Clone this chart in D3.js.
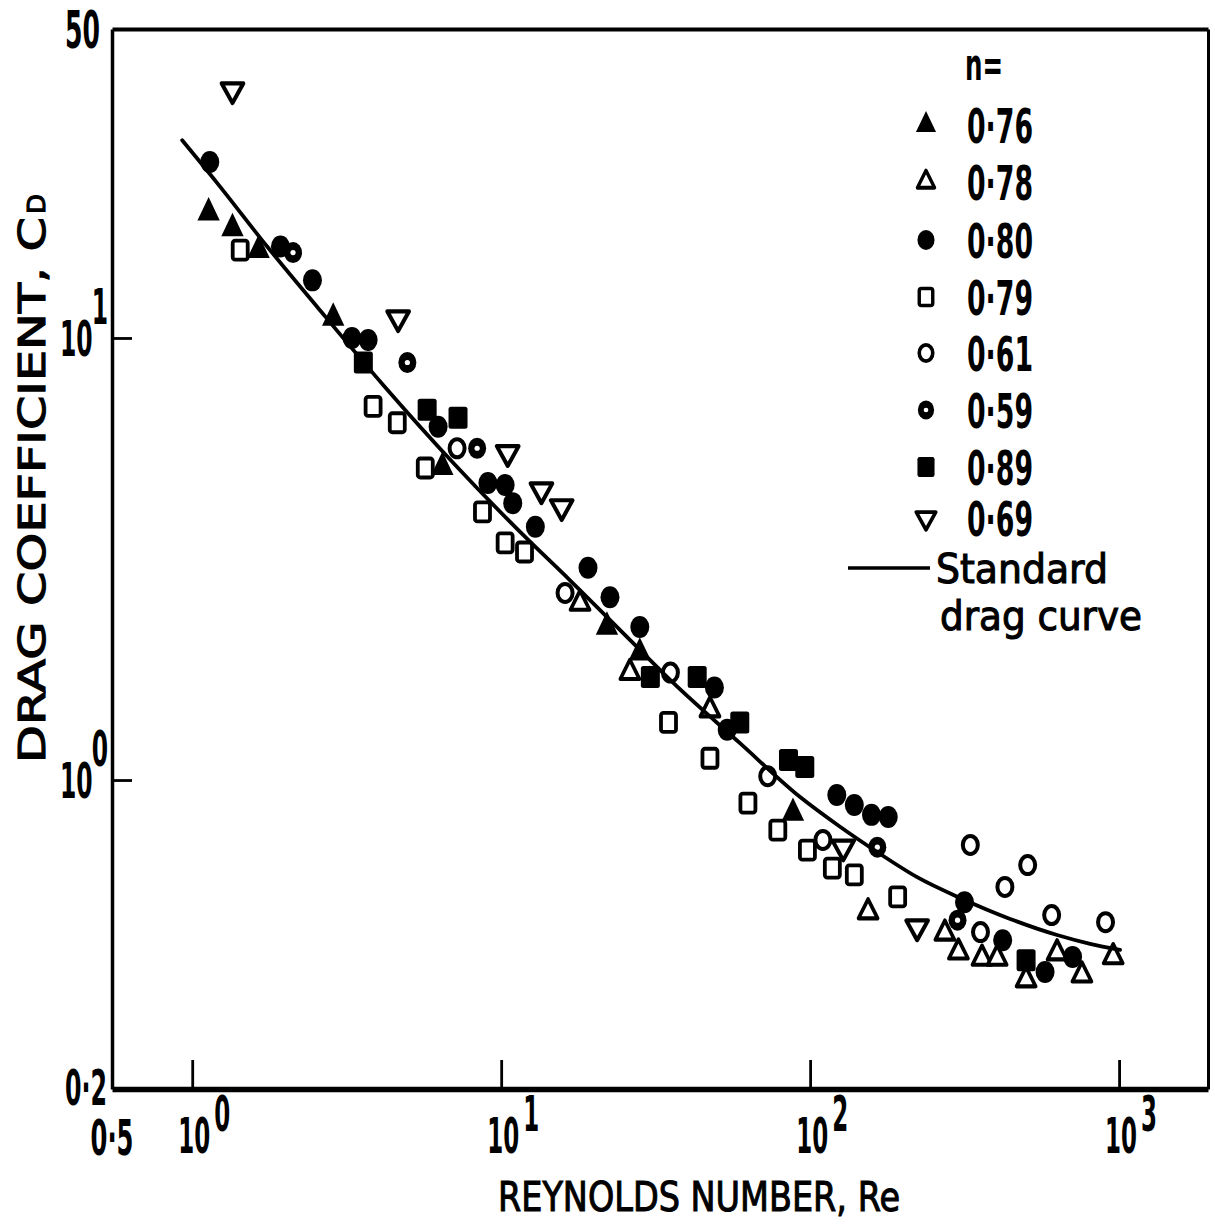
<!DOCTYPE html>
<html>
<head>
<meta charset="utf-8">
<script src="https://cdn.jsdelivr.net/npm/d3@7"></script>
<style>
  body { margin: 0; background: #fff; }
  svg { display: block; }
  text { font-family: "DejaVu Sans", "Noto Sans", sans-serif; font-weight: bold; fill: #000; }
  text.title { font-weight: normal; stroke: #000; stroke-width: 1.1px; }
</style>
</head>
<body>
<svg id="chart" width="1215" height="1227"></svg>
<script>
// ---- axis ranges and tick labels ----
const xDomain = [0.55, 1940];          // Reynolds number
const yDomain = [0.2, 50];             // drag coefficient
const xDecades = [1, 10, 100, 1000];
const xExponents = ["0", "1", "2", "3"];
const yDecades = [1, 10];
const yExponents = ["0", "1"];
const xCornerLabel = "0·5";
const yBottomLabel = "0·2";
const yTopLabel = "50";
const xTitle = "REYNOLDS NUMBER, Re";
const yTitle = "DRAG COEFFICIENT, C";
const yTitleSub = "D";

// ---- measured drag coefficients [Re, CD], one list per flow index n ----
const n076 = [[1.13, 19.2], [1.35, 17.7], [1.64, 15.8], [2.86, 11.1], [6.45, 5.1],
              [22.0, 2.22], [28.1, 1.94], [88, 0.842]];
const n078 = [[18.0, 2.51], [26.1, 1.75], [47.4, 1.44], [154, 0.503], [273, 0.45],
              [302, 0.408], [360, 0.395], [403, 0.395], [500, 0.353], [630, 0.406],
              [758, 0.362], [957, 0.398]];
const n080 = [[1.14, 25.0], [1.93, 16.1], [2.45, 13.5], [3.29, 10.0], [3.71, 9.9],
              [6.25, 6.3], [9.06, 4.7], [10.3, 4.65], [10.9, 4.23], [12.9, 3.74],
              [19.1, 3.02], [22.5, 2.59], [28.1, 2.22], [49.0, 1.62], [53.9, 1.30],
              [122, 0.925], [139, 0.878], [158, 0.834], [179, 0.825], [316, 0.529],
              [420, 0.434], [576, 0.368], [707, 0.398]];
const n079 = [[1.43, 15.8], [3.85, 7.0], [4.61, 6.43], [5.68, 5.08], [8.7, 4.04],
              [10.3, 3.44], [11.9, 3.28], [34.8, 1.35], [47.4, 1.12], [62.9, 0.887],
              [78.6, 0.77], [98, 0.694], [118, 0.632], [139, 0.61], [192, 0.544]];
const n061 = [[7.2, 5.63], [16.1, 2.65], [35.3, 1.75], [72.9, 1.02], [110, 0.732],
              [330, 0.713], [356, 0.453], [427, 0.573], [506, 0.642], [605, 0.495],
              [904, 0.477]];
const n059 = [[2.12, 15.6], [4.97, 8.8], [8.36, 5.63], [165, 0.705], [300, 0.482]];
const n089 = [[3.58, 8.8], [5.76, 6.88], [7.25, 6.6], [30.4, 1.71], [43.1, 1.71],
              [59.2, 1.35], [85.1, 1.11], [96.1, 1.07], [500, 0.391]];
const n069 = [[1.35, 36.4], [4.64, 11.1], [10.5, 5.5], [13.5, 4.53], [15.7, 4.15],
              [128, 0.705], [222, 0.465]];

// ---- standard drag curve [Re, CD] ----
const standardCurve = [[0.928, 28.0], [1.205, 22.4], [1.748, 16.1], [2.54, 11.75],
  [4.15, 7.83], [7.10, 5.16], [11.8, 3.58], [16.7, 2.83], [26.2, 2.07], [36.0, 1.66],
  [59.4, 1.21], [92.8, 0.915], [124, 0.787], [165, 0.687], [222, 0.603], [306, 0.541],
  [444, 0.485], [630, 0.446], [806, 0.426], [1007, 0.413]];

const legendTitle = "n=";
const legendLabels = ["0·76", "0·78", "0·80", "0·79", "0·61", "0·59", "0·89", "0·69"];
const curveLabel = ["Standard", "drag curve"];

// series table: data + marker kind, in legend order
const series = [
  { label: legendLabels[0], data: n076, kind: "triFilled" },
  { label: legendLabels[1], data: n078, kind: "triOpen" },
  { label: legendLabels[2], data: n080, kind: "circFilled" },
  { label: legendLabels[3], data: n079, kind: "sqOpen" },
  { label: legendLabels[4], data: n061, kind: "circOpen" },
  { label: legendLabels[5], data: n059, kind: "circDot" },
  { label: legendLabels[6], data: n089, kind: "sqFilled" },
  { label: legendLabels[7], data: n069, kind: "triDown" }
];

const svg = d3.select("#chart");
const L = 112, R = 1208, T = 29, B = 1089;

const x = d3.scaleLog().domain(xDomain).range([L, R]);
const y = d3.scaleLog().domain(yDomain).range([B, T]);

// ---- frame and ticks ----
function styleAxis(g, w) {
  g.select(".domain").attr("stroke", "#000").attr("stroke-width", w);
  g.selectAll(".tick line").attr("stroke", "#000").attr("stroke-width", 2.8);
}
svg.append("g").attr("transform", `translate(0,${T})`)
  .call(d3.axisTop(x).tickValues([]).tickSizeOuter(0))
  .call(g => styleAxis(g, 4));
svg.append("g").attr("transform", `translate(${R},0)`)
  .call(d3.axisRight(y).tickValues([]).tickSizeOuter(0))
  .call(g => styleAxis(g, 3));
svg.append("g").attr("transform", `translate(${L},0)`)
  .call(d3.axisLeft(y).tickValues(yDecades).tickSizeInner(-20).tickSizeOuter(0).tickFormat(""))
  .call(g => styleAxis(g, 3.5));
svg.append("g").attr("transform", `translate(0,${B})`)
  .call(d3.axisBottom(x).tickValues(xDecades).tickSizeInner(-29).tickSizeOuter(0).tickFormat(""))
  .call(g => styleAxis(g, 5.5));

// condensed text helper
function label(parent, str, px, py, size, len, anchor) {
  return parent.append("text")
    .attr("x", px).attr("y", py)
    .attr("font-size", size)
    .attr("text-anchor", anchor || "start")
    .attr("textLength", len)
    .attr("lengthAdjust", "spacingAndGlyphs")
    .text(str);
}

// power-of-ten label: narrow "10" with a full-size raised exponent
function power(parent, exp, px, py, sx, gap, rise) {
  const t = parent.append("text")
    .attr("transform", `translate(${px},${py}) scale(${sx},1)`)
    .attr("font-size", 50);
  t.append("tspan").text("10");
  t.append("tspan").attr("dx", gap / sx).attr("dy", -rise).text(exp);
  return t;
}

// ---- tick labels ----
const tl = svg.append("g");
xDecades.forEach((v, i) => power(tl, xExponents[i], x(v) - 14, B + 64, 0.46, 4, 22));
yDecades.forEach((v, i) => power(tl, yExponents[i], 60, y(v) + 18, 0.47, -1, 32));
label(tl, yTopLabel, 65, T + 19, 52, 35);
label(tl, yBottomLabel, 65, B + 16, 50, 42);
label(tl, xCornerLabel, L, B + 66, 50, 43, "middle");

// ---- axis titles ----
label(svg, xTitle, 498, 1211, 41, 402).attr("class", "title");
const yt = svg.append("g").attr("transform", "translate(45,763) rotate(-90)");
label(yt, yTitle, 0, 0, 37, 546).attr("class", "title");
label(yt, yTitleSub, 549, 0, 24, 20).attr("class", "title");

// ---- markers ----
const sym = d3.symbol();
function marker(g, kind) {
  const sw = 3.8;
  switch (kind) {
    case "triFilled":
      g.append("path").attr("d", sym.type(d3.symbolTriangle).size(240)()).attr("fill", "#000")
        .attr("transform", "scale(0.95,1.15)");
      break;
    case "triOpen":
      g.append("path").attr("d", sym.type(d3.symbolTriangle).size(175)()).attr("fill", "#fff")
        .attr("stroke", "#000").attr("stroke-width", sw).attr("stroke-linejoin", "round")
        .attr("transform", "scale(0.95,1.1)");
      break;
    case "triDown":
      g.append("path").attr("d", sym.type(d3.symbolTriangle).size(185)()).attr("fill", "#fff")
        .attr("stroke", "#000").attr("stroke-width", sw).attr("stroke-linejoin", "round")
        .attr("transform", "rotate(180) scale(1.05,1.1)");
      break;
    case "circFilled":
      g.append("ellipse").attr("rx", 9.5).attr("ry", 11).attr("fill", "#000");
      break;
    case "circOpen":
      g.append("ellipse").attr("rx", 7.5).attr("ry", 9).attr("fill", "#fff")
        .attr("stroke", "#000").attr("stroke-width", 4);
      break;
    case "circDot":
      g.append("ellipse").attr("rx", 9).attr("ry", 10.5).attr("fill", "#000");
      g.append("circle").attr("r", 2.6).attr("fill", "#fff");
      break;
    case "sqOpen":
      g.append("rect").attr("x", -7.5).attr("y", -9.5).attr("width", 15).attr("height", 19)
        .attr("rx", 2.5).attr("fill", "#fff").attr("stroke", "#000").attr("stroke-width", sw);
      break;
    case "sqFilled":
      g.append("rect").attr("x", -9.5).attr("y", -11).attr("width", 19).attr("height", 22)
        .attr("rx", 2.5).attr("fill", "#000");
      break;
  }
}

const pts = svg.append("g");
series.forEach(s => {
  pts.selectAll(null).data(s.data).enter().append("g")
    .attr("transform", d => `translate(${x(d[0])},${y(d[1])})`)
    .each(function () { marker(d3.select(this), s.kind); });
});

// ---- standard drag curve ----
const line = d3.line().x(d => x(d[0])).y(d => y(d[1])).curve(d3.curveMonotoneX);
svg.append("path").datum(standardCurve)
  .attr("d", line).attr("fill", "none")
  .attr("stroke", "#000").attr("stroke-width", 3.8).attr("stroke-linecap", "round");

// ---- legend ----
const lg = svg.append("g");
label(lg, legendTitle, 965, 80, 44, 38);
const rowY = [125, 182, 240, 297, 353, 410, 467, 518];
series.forEach((s, i) => {
  const g = lg.append("g").attr("transform", `translate(926,${rowY[i]}) scale(0.9)`);
  marker(g, s.kind);
  label(lg, s.label, 967, rowY[i] + 18, 48, 66);
});
lg.append("line").attr("x1", 848).attr("x2", 930).attr("y1", 568).attr("y2", 568)
  .attr("stroke", "#000").attr("stroke-width", 3.5);
label(lg, curveLabel[0], 936, 583, 40, 172).attr("class", "title");
label(lg, curveLabel[1], 940, 630, 40, 202).attr("class", "title");
</script>
</body>
</html>
